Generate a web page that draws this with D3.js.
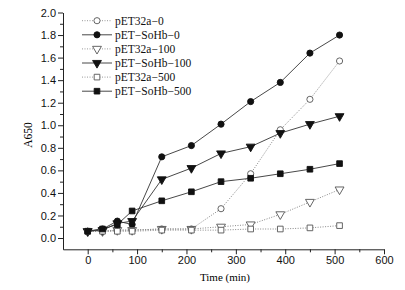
<!DOCTYPE html>
<html>
<head>
<meta charset="utf-8">
<script src="https://cdn.jsdelivr.net/npm/d3@7"></script>
<style>
  body { margin: 0; background: #fff; }
  svg { display: block; font-family: "Liberation Serif", "Times New Roman", serif; }
  .axis path, .axis line { stroke: #222; }
  .axis text { font-size: 11px; fill: #111; }
</style>
</head>
<body>
<svg id="chart" width="405" height="290"></svg>
<script>
// sampling times (min)
const times = [0, 30, 60, 90, 150, 210, 270, 330, 390, 450, 510];

// A650 readings
const pet0      = [0.06, 0.06, 0.07, 0.07, 0.08, 0.08, 0.26, 0.57, 0.96, 1.23, 1.57];
const soHb0     = [0.06, 0.08, 0.15, 0.12, 0.72, 0.82, 1.01, 1.21, 1.38, 1.64, 1.80];
const pet100    = [0.06, 0.06, 0.07, 0.07, 0.08, 0.08, 0.10, 0.12, 0.21, 0.32, 0.43];
const soHb100   = [0.06, 0.07, 0.13, 0.15, 0.52, 0.62, 0.75, 0.81, 0.93, 1.01, 1.08];
const pet500    = [0.06, 0.06, 0.06, 0.06, 0.07, 0.07, 0.07, 0.08, 0.08, 0.09, 0.11];
const soHb500   = [0.06, 0.08, 0.12, 0.24, 0.33, 0.41, 0.50, 0.53, 0.57, 0.61, 0.66];

const seriesNames = ["pET32a\u22120", "pET\u2212SoHb\u22120", "pET32a\u2212100",
                     "pET\u2212SoHb\u2212100", "pET32a\u2212500", "pET\u2212SoHb\u2212500"];

const xTicks = [0, 100, 200, 300, 400, 500, 600];
const yTicks = [0, 0.2, 0.4, 0.6, 0.8, 1.0, 1.2, 1.4, 1.6, 1.8, 2.0];

let svg = d3.select("#chart");

let x = d3.scaleLinear().domain([-50, 600]).range([63, 384]);
let y = d3.scaleLinear().domain([-0.1, 2.0]).range([249.3, 12.5]);

// marker styles per series
let series = [
  {name: seriesNames[0], values: pet0,    shape: "circle",   filled: false},
  {name: seriesNames[1], values: soHb0,   shape: "circle",   filled: true},
  {name: seriesNames[2], values: pet100,  shape: "triangle", filled: false},
  {name: seriesNames[3], values: soHb100, shape: "triangle", filled: true},
  {name: seriesNames[4], values: pet500,  shape: "square",   filled: false},
  {name: seriesNames[5], values: soHb500, shape: "square",   filled: true}
];

function symbolFor(s) {
  if (s.shape == "circle") return d3.symbol().type(d3.symbolCircle).size(30)();
  if (s.shape == "square") return d3.symbol().type(d3.symbolSquare).size(32)();
  return d3.symbol().type(d3.symbolTriangle).size(34)();
}

function drawMarker(g, s, cx, cy) {
  g.append("path")
    .attr("d", symbolFor(s))
    .attr("transform", "translate(" + cx + "," + cy + ")" + (s.shape == "triangle" ? " rotate(180)" : ""))
    .attr("fill", s.filled ? "#111" : "#fff")
    .attr("stroke", s.filled ? "#111" : "#555")
    .attr("stroke-width", 0.9);
}

// axes
let xAxis = svg.append("g").attr("class", "axis")
  .attr("transform", "translate(0," + y(-0.1) + ")")
  .call(d3.axisBottom(x).tickValues(xTicks).tickSize(5).tickSizeOuter(0).tickPadding(2));
svg.append("g").attr("class", "axis")
  .attr("transform", "translate(0," + y(-0.1) + ")")
  .call(d3.axisBottom(x).tickValues(d3.range(50, 600, 100)).tickSize(3).tickFormat(""))
  .select(".domain").remove();

let yAxis = svg.append("g").attr("class", "axis")
  .attr("transform", "translate(" + x(-50) + ",0)")
  .call(d3.axisLeft(y).tickValues(yTicks).tickSize(5).tickSizeOuter(0).tickPadding(2).tickFormat(d3.format(".1f")));
svg.append("g").attr("class", "axis")
  .attr("transform", "translate(" + x(-50) + ",0)")
  .call(d3.axisLeft(y).tickValues(d3.range(0.1, 2.0, 0.2)).tickSize(3).tickFormat(""))
  .select(".domain").remove();

svg.append("text")
  .attr("x", 225).attr("y", 281)
  .attr("text-anchor", "middle")
  .attr("font-size", "11px")
  .text("Time (min)");

svg.append("text")
  .attr("transform", "translate(32,135) rotate(-90)")
  .attr("text-anchor", "middle")
  .attr("font-size", "11.5px")
  .text("A650");

// lines + markers
let line = d3.line()
  .x((d, i) => x(times[i]))
  .y(d => y(d));

let plot = svg.append("g");
series.forEach(function(s) {
  plot.append("path")
    .datum(s.values)
    .attr("d", line)
    .attr("fill", "none")
    .attr("stroke", s.filled ? "#333" : "#888")
    .attr("stroke-width", s.filled ? 0.9 : 1)
    .attr("stroke-dasharray", s.filled ? null : "1,1.5");
});
series.forEach(function(s) {
  s.values.forEach(function(v, i) {
    drawMarker(plot, s, x(times[i]), y(v));
  });
});

// legend
let legend = svg.append("g");
series.forEach(function(s, i) {
  let ly = 20.7 + i * 14.1;
  legend.append("line")
    .attr("x1", 82).attr("x2", 112).attr("y1", ly).attr("y2", ly)
    .attr("stroke", s.filled ? "#333" : "#999")
    .attr("stroke-width", s.filled ? 0.9 : 1)
    .attr("stroke-dasharray", s.filled ? null : "1,1.5");
  drawMarker(legend, s, 97, ly);
  legend.append("text")
    .attr("x", 115).attr("y", ly + 4)
    .attr("font-size", "11.5px")
    .attr("fill", "#111")
    .text(s.name);
});
</script>
</body>
</html>
